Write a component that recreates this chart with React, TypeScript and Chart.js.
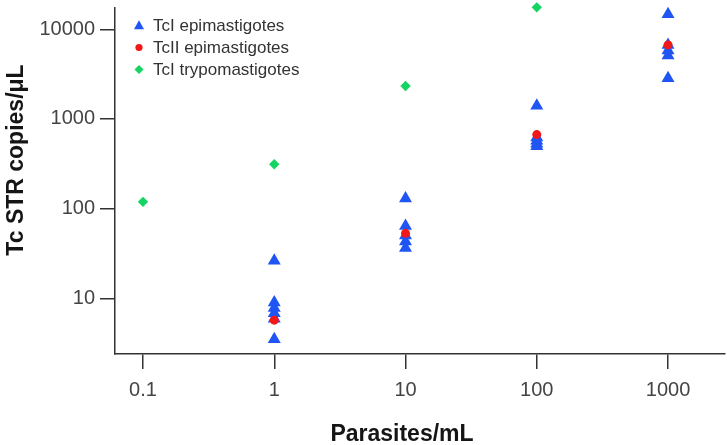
import React, { useEffect, useRef } from "react";
import { Chart, registerables } from "chart.js";

Chart.register(...registerables);

// ---- data ----
const xTickValues = [0.1, 1, 10, 100, 1000];
const yTickValues = [10, 100, 1000, 10000];

const seriesNames = ["TcI epimastigotes", "TcII epimastigotes", "TcI trypomastigotes"];

const tcIEpiX = [1, 1, 1, 1, 1, 1, 10, 10, 10, 10, 10, 100, 100, 100, 100, 100, 1000, 1000, 1000, 1000, 1000];
const tcIEpiY = [26.2, 9.0, 7.8, 6.8, 5.9, 3.5, 130, 64, 50, 43, 36.5, 1400, 620, 570, 530, 495, 14700, 6700, 5800, 5100, 2850];

const tcIIEpiX = [1, 10, 100, 1000];
const tcIIEpiY = [5.7, 53, 670, 6700];

const tcITrypoX = [0.1, 1, 10, 100];
const tcITrypoY = [119, 312, 2330, 17580];

const xTitle = "Parasites/mL";
const yTitle = "Tc STR copies/\u03bcL";

const BLUE = "#1f55f3";
const RED = "#f01818";
const GREEN = "#14d464";

const FONT = '"Liberation Sans", Arial, Helvetica, sans-serif';

const toPoints = (xs: number[], ys: number[]) => xs.map((x, i) => ({ x, y: ys[i] }));

function drawMarker(ctx: CanvasRenderingContext2D, style: string, x: number, y: number, r: number, color: string) {
  ctx.beginPath();
  ctx.fillStyle = color;
  if (style === "triangle") {
    const h = r * 1.5;
    const w = r * Math.sqrt(3);
    ctx.moveTo(x, y - h / 2 - 0.5);
    ctx.lineTo(x + w / 2, y + h / 2);
    ctx.lineTo(x - w / 2, y + h / 2);
    ctx.closePath();
  } else if (style === "circle") {
    ctx.arc(x, y, r, 0, Math.PI * 2);
  } else {
    ctx.moveTo(x - r, y);
    ctx.lineTo(x, y - r);
    ctx.lineTo(x + r, y);
    ctx.lineTo(x, y + r);
    ctx.closePath();
  }
  ctx.fill();
}

const decorPlugin = {
  id: "decor",
  afterDraw(chart: any) {
    const ctx: CanvasRenderingContext2D = chart.ctx;
    ctx.save();
    ctx.fillStyle = "#151515";
    ctx.font = `bold 23px ${FONT}`;
    ctx.textAlign = "center";
    ctx.textBaseline = "middle";
    ctx.fillText(xTitle, 402, 435);
    ctx.save();
    ctx.translate(17, 160);
    ctx.rotate(-Math.PI / 2);
    ctx.fillText(yTitle, 0, 0);
    ctx.restore();

    // legend
    const styles = ["triangle", "circle", "rectRot"];
    const colors = [BLUE, RED, GREEN];
    const radii = [5.8, 3.6, 4.5];
    const rows = [25, 47.5, 69.5];
    ctx.font = `17px ${FONT}`;
    ctx.textAlign = "left";
    ctx.textBaseline = "middle";
    seriesNames.forEach((name, i) => {
      drawMarker(ctx, styles[i], 139, rows[i], radii[i], colors[i]);
      ctx.fillStyle = "#333333";
      ctx.fillText(name, 153, rows[i] + 1);
    });
    ctx.restore();
  },
};

export default function App() {
  const canvasRef = useRef<HTMLCanvasElement | null>(null);

  useEffect(() => {
    if (!canvasRef.current) return;
    const chart = new Chart(canvasRef.current, {
      type: "scatter",
      data: {
        datasets: [
          {
            label: seriesNames[1],
            data: toPoints(tcIIEpiX, tcIIEpiY),
            pointStyle: "circle",
            pointRadius: 4.5,
            backgroundColor: RED,
            borderWidth: 0,
            clip: false,
            order: 0,
          },
          {
            label: seriesNames[0],
            data: toPoints(tcIEpiX, tcIEpiY),
            pointStyle: "triangle",
            pointRadius: 7.5,
            backgroundColor: BLUE,
            borderWidth: 0,
            clip: false,
            order: 1,
          },
          {
            label: seriesNames[2],
            data: toPoints(tcITrypoX, tcITrypoY),
            pointStyle: "rectRot",
            pointRadius: 5.2,
            backgroundColor: GREEN,
            borderWidth: 0,
            clip: false,
            order: 2,
          },
        ],
      },
      options: {
        responsive: false,
        animation: false,
        layout: { autoPadding: false, padding: { left: 0, top: 8, right: 2, bottom: 0 } },
        plugins: {
          legend: { display: false },
          tooltip: { enabled: false },
        },
        elements: { point: { hoverRadius: 7 } },
        scales: {
          x: {
            type: "logarithmic",
            min: 0.0612,
            max: 2716,
            bounds: "data",
            afterBuildTicks: (scale: any) => {
              scale.ticks = xTickValues.map((v) => ({ value: v }));
            },
            afterFit: (scale: any) => {
              scale.height = 91;
              scale.paddingLeft = 0;
              scale.paddingRight = 0;
            },
            ticks: {
              autoSkip: false,
              maxRotation: 0,
              minRotation: 0,
              padding: 9,
              color: "#444444",
              font: { family: FONT, size: 20 },
              callback: (v: any) => String(v),
            },
            grid: {
              display: true,
              drawOnChartArea: false,
              drawTicks: true,
              tickLength: 15,
              color: "#333333",
              lineWidth: 1.5,
            },
            border: { display: true, color: "#333333", width: 1.5 },
          },
          y: {
            type: "logarithmic",
            min: 2.392,
            max: 17280,
            bounds: "data",
            afterBuildTicks: (scale: any) => {
              scale.ticks = yTickValues.map((v) => ({ value: v }));
            },
            afterFit: (scale: any) => {
              scale.width = 115;
              scale.paddingTop = 0;
              scale.paddingBottom = 0;
            },
            ticks: {
              autoSkip: false,
              padding: 5,
              color: "#444444",
              font: { family: FONT, size: 20 },
              callback: (v: any) => String(v),
            },
            grid: {
              display: true,
              drawOnChartArea: false,
              drawTicks: true,
              tickLength: 15,
              color: "#333333",
              lineWidth: 1.5,
            },
            border: { display: true, color: "#333333", width: 1.5 },
          },
        },
      },
      plugins: [decorPlugin],
    } as any);
    return () => chart.destroy();
  }, []);

  return (
    <div style={{ position: "fixed", left: 0, top: 0, width: 727, height: 445, background: "#ffffff" }}>
      <canvas ref={canvasRef} width={727} height={445} style={{ display: "block", width: 727, height: 445 }} />
    </div>
  );
}
